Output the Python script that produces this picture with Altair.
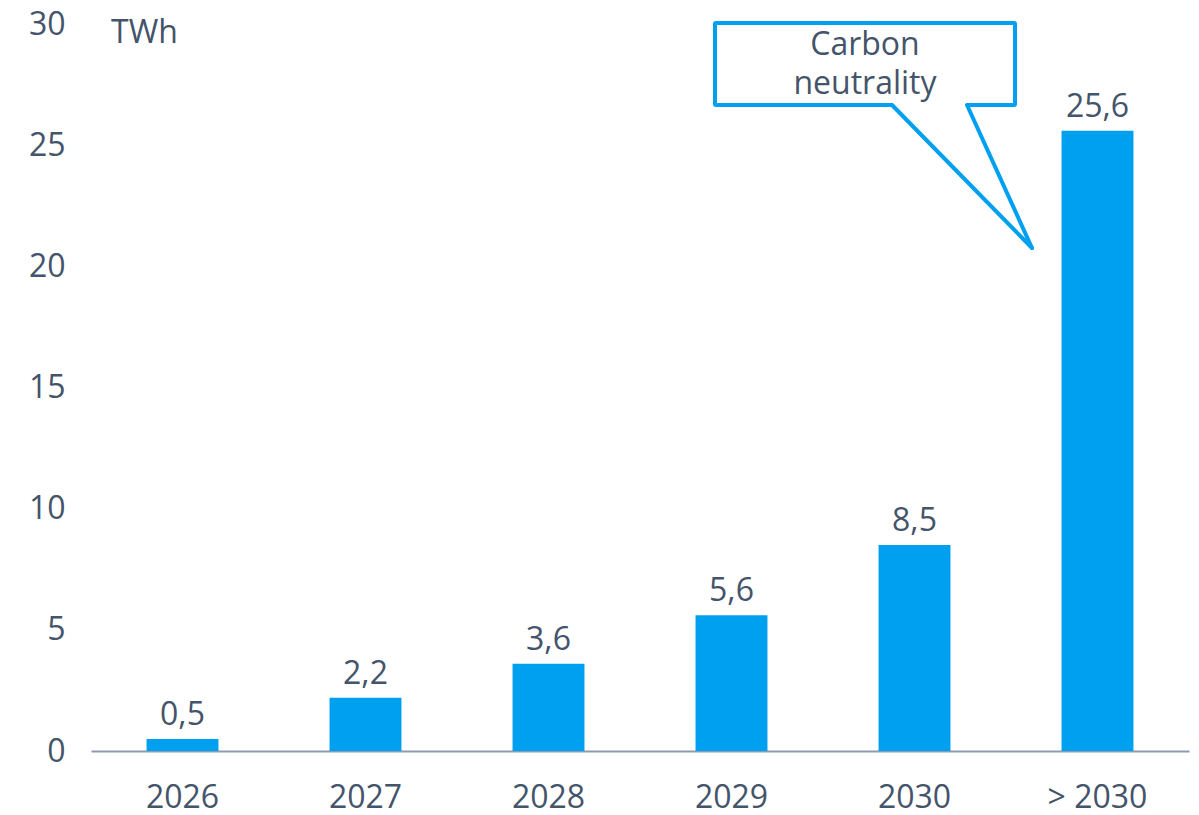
import altair as alt
import pandas as pd

categories = ["2026", "2027", "2028", "2029", "2030", "> 2030"]
values = [0.5, 2.2, 3.6, 5.6, 8.5, 25.6]
y_ticks = [0, 5, 10, 15, 20, 25, 30]
unit = "TWh"
callout_lines = ["Carbon", "neutrality"]

labels = [f"{v:.1f}".replace(".", ",") for v in values]
df = pd.DataFrame({"cat": categories, "val": values, "label": labels})

W, H = 1098, 727
BLUE = "#00A0F0"
TXT = "#44546A"
FONT = "Open Sans"
FS = 32

x = alt.X("cat:N", sort=categories,
          scale=alt.Scale(paddingInner=0.607, paddingOuter=0.3035),
          axis=alt.Axis(title=None, labelAngle=0, ticks=False, domainColor="#8C9BB0",
                        domainWidth=2, labelFont=FONT, labelFontSize=FS, labelColor=TXT,
                        labelPadding=31))
y = alt.Y("val:Q", scale=alt.Scale(domain=[0, 30]),
          axis=alt.Axis(title=None, values=y_ticks, grid=False, domain=False, ticks=False,
                        labelFont=FONT, labelFontSize=FS, labelColor=TXT, labelPadding=26))

base = alt.Chart(df)
bars = base.mark_bar(color=BLUE).encode(x=x, y=y)
text = base.mark_text(font=FONT, fontSize=FS, color=TXT, baseline="alphabetic", dy=-14).encode(
    x=x, y=y, text="label:N")

one = alt.Data(values=[{}])
unit_text = alt.Chart(one).mark_text(text=unit, font=FONT, fontSize=FS, color=TXT,
                                     align="left", baseline="alphabetic").encode(
    x=alt.value(20), y=alt.value(19))

box = alt.Chart(one).mark_rect(fill="white", stroke=BLUE, strokeWidth=4, cornerRadius=1).encode(
    x=alt.value(624), x2=alt.value(924), y=alt.value(-1), y2=alt.value(81))
cover = alt.Chart(one).mark_rule(color="white", strokeWidth=6).encode(
    x=alt.value(802), x2=alt.value(875), y=alt.value(81), y2=alt.value(81))
ptr1 = alt.Chart(one).mark_rule(color=BLUE, strokeWidth=4, strokeCap="round").encode(
    x=alt.value(801), y=alt.value(81), x2=alt.value(941), y2=alt.value(224))
ptr2 = alt.Chart(one).mark_rule(color=BLUE, strokeWidth=4, strokeCap="round").encode(
    x=alt.value(876), y=alt.value(81), x2=alt.value(941), y2=alt.value(224))
call_text = alt.Chart(one).mark_text(text=callout_lines, font=FONT, fontSize=FS, color=TXT,
                                     align="center", baseline="alphabetic", lineHeight=39).encode(
    x=alt.value(774), y=alt.value(31))

chart = alt.layer(bars, text, unit_text, box, cover, ptr1, ptr2, call_text).properties(
    width=W, height=H,
    autosize=alt.AutoSizeParams(type="none"),
    padding={"left": 91, "top": 24, "right": 10, "bottom": 64},
).configure_view(stroke=None)

chart.save("out.html", embed_options={"renderer": "svg", "actions": False})
